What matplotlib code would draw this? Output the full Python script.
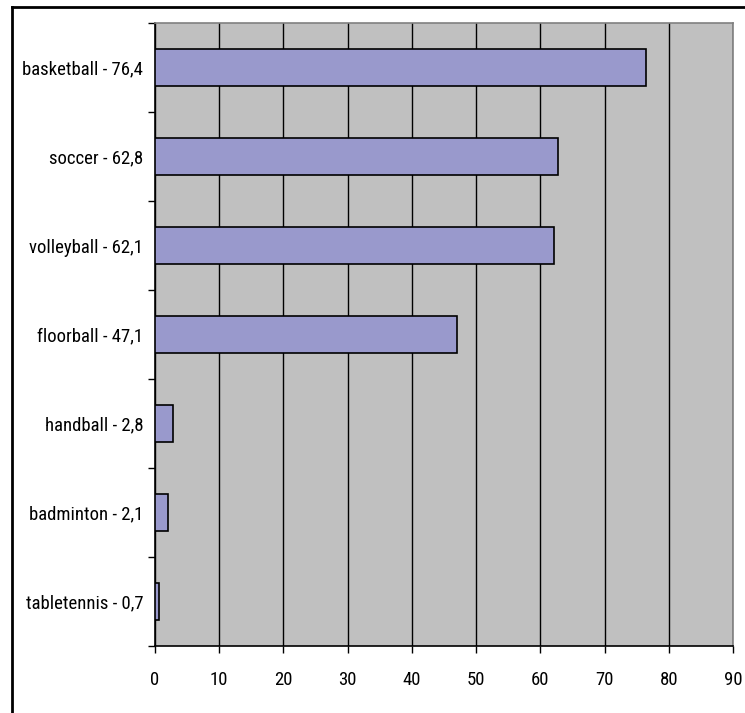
import matplotlib
matplotlib.use("Agg")
import matplotlib.pyplot as plt
from matplotlib.lines import Line2D
from matplotlib import font_manager

sports = ["basketball", "soccer", "volleyball", "floorball", "handball", "badminton", "tabletennis"]
values = [76.4, 62.8, 62.1, 47.1, 2.8, 2.1, 0.7]
value_labels = ["76,4", "62,8", "62,1", "47,1", "2,8", "2,1", "0,7"]
x_ticks = [0, 10, 20, 30, 40, 50, 60, 70, 80, 90]

# pick a narrow sans-serif face if one is installed
names = {f.name for f in font_manager.fontManager.ttflist}
candidates = ["Liberation Sans Narrow", "Arial Narrow", "Roboto Condensed", "Archivo Narrow",
              "PT Sans Narrow", "Sofia Sans Condensed", "IBM Plex Sans Condensed",
              "Encode Sans Condensed", "Fira Sans Condensed", "Open Sans Condensed"]
family = next((c for c in candidates if c in names), "Liberation Sans")
plt.rcParams["font.family"] = [family, "DejaVu Sans"]

W, H = 745, 713
fig = plt.figure(figsize=(W / 100, H / 100), dpi=100)
ax = fig.add_axes([155 / W, 1 - 646 / H, (733 - 155) / W, (646 - 23) / H])

n = len(sports)
pos = list(range(n))[::-1]
ax.barh(pos, values, height=0.42, color="#9999CC", edgecolor="black", linewidth=1.2, zorder=3)

ax.set_facecolor("#C0C0C0")
ax.set_xlim(0, 90)
ax.set_ylim(-0.5, n - 0.5)
ax.set_xticks(x_ticks)
ax.set_xticklabels([str(t) for t in x_ticks])
ax.xaxis.grid(True, color="black", linewidth=1.0, zorder=1)
ax.set_axisbelow(True)

# category boundary ticks on the left, labels centered between them
ax.set_yticks([p - 0.5 for p in range(n + 1)])
ax.set_yticklabels([])
ax.set_yticks(pos, minor=True)
ax.set_yticklabels([f"{s} - {v}" for s, v in zip(sports, value_labels)], minor=True)
ax.tick_params(axis="y", which="minor", length=0, pad=8.5, labelsize=13.5)
ax.tick_params(axis="y", which="major", length=5, width=1, direction="out")
ax.tick_params(axis="x", length=5, width=1, direction="out", pad=13, labelsize=13.5)

for side in ("top", "right"):
    ax.spines[side].set_color("#808080")
    ax.spines[side].set_linewidth(1.2)
for side in ("left", "bottom"):
    ax.spines[side].set_color("black")
    ax.spines[side].set_linewidth(1.2)

# chart frame (top and left edges)
fig.add_artist(Line2D([12 / W, 12 / W], [0, 1 - 7 / H], color="black", linewidth=2, transform=fig.transFigure))
fig.add_artist(Line2D([12 / W, 1], [1 - 7 / H, 1 - 7 / H], color="black", linewidth=2, transform=fig.transFigure))

fig.savefig("out.png", dpi=100, facecolor="white")
